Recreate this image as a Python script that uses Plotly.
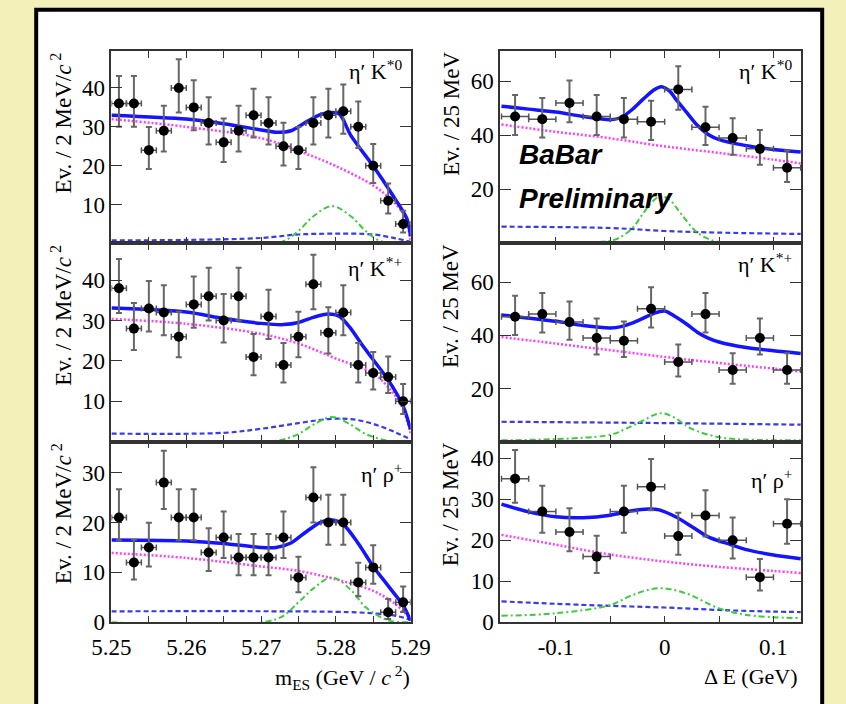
import math
import plotly.graph_objects as go

# ---------------- data ----------------
MES_BINS = [5.251, 5.253, 5.255, 5.257, 5.259, 5.261, 5.263, 5.265, 5.267, 5.269,
            5.271, 5.273, 5.275, 5.277, 5.279, 5.281, 5.283, 5.285, 5.287, 5.289]
DE_BINS = [-0.1375, -0.1125, -0.0875, -0.0625, -0.0375, -0.0125,
           0.0125, 0.0375, 0.0625, 0.0875, 0.1125]

K0_MES = [36, 36, 24, 29, 40, 35, 31, 26, 29, 33, 31, 25, 24, 31, 33, 34, 30, 20, 11, 5]
KP_MES = [38, 28, 33, 32, 26, 34, 36, 30, 36, 21, 31, 19, 26, 39, 27, 32, 19, 17, 16, 10]
RHO_MES = [21, 12, 15, 28, 21, 21, 14, 17, 13, 13, 13, 17, 9, 25, 20, 20, 8, 11, 2, 4]

K0_DE = [47, 46, 52, 47, 46, 45, 57, 43, 39, 35, 28]
KP_DE = [47, 48, 45, 39, 38, 50, 30, 48, 27, 39, 27]
RHO_DE = [35, 27, 22, 16, 27, 33, 21, 26, 20, 11, 24]

# fit curves (drawn as splines)
# --- mES, eta' K*0
K0_MES_TOT_X = [5.25, 5.26, 5.265, 5.27, 5.272, 5.274, 5.276, 5.278, 5.2795, 5.2805,
                5.282, 5.285, 5.2875, 5.2895, 5.29]
K0_MES_TOT_Y = [33.0, 32.0, 30.8, 29.2, 28.6, 29.0, 31.2, 33.2, 33.7, 33.3,
                27.8, 19.9, 12.7, 6.4, 1.8]
K0_MES_CON_X = [5.25, 5.26, 5.27, 5.275, 5.28, 5.285, 5.2875, 5.289, 5.2895, 5.29]
K0_MES_CON_Y = [32.0, 30.0, 27.1, 23.8, 19.9, 14.9, 11.1, 7.7, 5.5, 0.5]
K0_MES_BB_X = [5.25, 5.26, 5.27, 5.275, 5.28, 5.285, 5.288, 5.29]
K0_MES_BB_Y = [0.8, 0.9, 1.4, 2.3, 2.5, 2.3, 1.3, 0.4]
K0_MES_SIG_X = [5.25, 5.27, 5.273, 5.275, 5.277, 5.2795, 5.282, 5.284, 5.286, 5.29]
K0_MES_SIG_Y = [0.0, 0.0, 0.6, 3.2, 7.0, 9.6, 7.0, 3.2, 0.6, 0.0]

# --- mES, eta' K*+
KP_MES_TOT_X = [5.25, 5.26, 5.265, 5.27, 5.273, 5.275, 5.277, 5.279, 5.2805,
                5.282, 5.2835, 5.285, 5.287, 5.289, 5.29]
KP_MES_TOT_Y = [33.1, 32.1, 30.5, 29.3, 29.0, 29.5, 30.8, 31.6, 31.0,
                28.0, 24.0, 20.3, 15.3, 8.8, 3.0]
KP_MES_CON_X = [5.25, 5.26, 5.27, 5.275, 5.28, 5.285, 5.2875, 5.289, 5.29]
KP_MES_CON_Y = [30.4, 29.2, 26.7, 24.3, 20.6, 16.9, 12.4, 8.0, 2.0]
KP_MES_BB_X = [5.25, 5.265, 5.27, 5.275, 5.279, 5.282, 5.285, 5.288, 5.29]
KP_MES_BB_Y = [2.0, 2.2, 3.2, 4.6, 5.6, 5.6, 4.4, 2.3, 0.6]
KP_MES_SIG_X = [5.25, 5.272, 5.275, 5.277, 5.2795, 5.282, 5.284, 5.287, 5.29]
KP_MES_SIG_Y = [0.0, 0.2, 1.9, 4.2, 6.1, 4.2, 1.9, 0.2, 0.0]

# --- mES, eta' rho+
RHO_MES_TOT_X = [5.25, 5.26, 5.265, 5.27, 5.272, 5.274, 5.276, 5.278, 5.2795, 5.281,
                 5.283, 5.285, 5.287, 5.289, 5.29]
RHO_MES_TOT_Y = [16.5, 16.3, 15.8, 15.0, 15.0, 15.9, 18.1, 20.1, 20.5, 19.6,
                 15.8, 11.2, 7.3, 3.4, 0.3]
RHO_MES_CON_X = [5.25, 5.26, 5.27, 5.275, 5.28, 5.285, 5.288, 5.29]
RHO_MES_CON_Y = [13.9, 12.9, 11.2, 10.3, 8.6, 6.3, 3.6, 0.6]
RHO_MES_BB_X = [5.25, 5.28, 5.285, 5.288, 5.29]
RHO_MES_BB_Y = [2.2, 2.1, 1.8, 1.3, 0.5]
RHO_MES_SIG_X = [5.25, 5.272, 5.275, 5.277, 5.2795, 5.282, 5.284, 5.287, 5.29]
RHO_MES_SIG_Y = [0.0, 0.6, 4.0, 6.8, 9.0, 6.5, 3.0, 0.4, 0.0]

# --- DeltaE, eta' K*0
K0_DE_TOT_X = [-0.15, -0.125, -0.1, -0.075, -0.05, -0.04, -0.03, -0.02, -0.01, -0.003,
               0.005, 0.01, 0.02, 0.03, 0.04, 0.05, 0.075, 0.1, 0.125]
K0_DE_TOT_Y = [50.8, 49.7, 48.6, 47.0, 45.8, 46.6, 49.5, 53.3, 56.8, 58.0,
               56.2, 53.5, 48.6, 43.7, 40.3, 38.4, 36.2, 34.8, 33.8]
K0_DE_CON_X = [-0.15, -0.1, -0.05, 0.0, 0.05, 0.1, 0.125]
K0_DE_CON_Y = [44.0, 41.3, 38.9, 35.9, 33.5, 31.0, 29.6]
K0_DE_BB_X = [-0.15, -0.05, 0.0, 0.05, 0.125]
K0_DE_BB_Y = [6.2, 5.7, 4.6, 4.0, 3.5]
K0_DE_SIG_X = [-0.15, -0.06, -0.045, -0.03, -0.02, -0.01, -0.003, 0.005, 0.015,
               0.03, 0.045, 0.06, 0.125]
K0_DE_SIG_Y = [0.3, 0.5, 1.5, 5.5, 11.0, 16.0, 17.5, 16.0, 11.0, 4.0, 1.0, 0.4, 0.3]

# --- DeltaE, eta' K*+
KP_DE_TOT_X = [-0.15, -0.1, -0.075, -0.05, -0.04, -0.03, -0.02, -0.01, 0.0, 0.01,
               0.02, 0.03, 0.04, 0.05, 0.075, 0.1, 0.125]
KP_DE_TOT_Y = [47.7, 45.3, 43.7, 42.8, 43.3, 44.6, 46.4, 48.3, 49.2, 47.0,
               44.3, 41.2, 39.0, 37.5, 35.4, 34.2, 33.2]
KP_DE_CON_X = [-0.15, -0.1, -0.05, 0.0, 0.05, 0.1, 0.125]
KP_DE_CON_Y = [39.4, 36.9, 34.4, 31.9, 29.6, 27.5, 26.4]
KP_DE_BB_X = [-0.15, 0.0, 0.125]
KP_DE_BB_Y = [7.5, 7.0, 6.4]
KP_DE_SIG_X = [-0.15, -0.05, -0.035, -0.02, -0.01, -0.002, 0.01, 0.025, 0.05, 0.075, 0.125]
KP_DE_SIG_Y = [0.5, 2.6, 5.0, 7.9, 10.0, 10.7, 8.8, 4.8, 1.7, 0.8, 0.5]

# --- DeltaE, eta' rho+
RHO_DE_TOT_X = [-0.15, -0.125, -0.1, -0.075, -0.05, -0.03, -0.015, -0.005, 0.01,
                0.025, 0.04, 0.05, 0.06, 0.075, 0.1, 0.125]
RHO_DE_TOT_Y = [28.8, 26.9, 25.7, 25.5, 26.1, 27.2, 27.6, 27.4, 25.7,
                23.3, 20.8, 19.8, 19.0, 17.7, 16.4, 15.5]
RHO_DE_CON_X = [-0.15, -0.1, -0.05, 0.0, 0.05, 0.1, 0.125]
RHO_DE_CON_Y = [21.3, 18.9, 16.5, 14.8, 13.5, 12.5, 12.0]
RHO_DE_BB_X = [-0.15, -0.1, -0.05, 0.0, 0.05, 0.1, 0.125]
RHO_DE_BB_Y = [5.1, 4.5, 4.0, 3.6, 3.0, 2.6, 2.5]
RHO_DE_SIG_X = [-0.15, -0.1, -0.05, -0.03, -0.005, 0.02, 0.05, 0.075, 0.125]
RHO_DE_SIG_Y = [1.6, 2.2, 4.2, 6.6, 8.3, 7.0, 3.4, 1.8, 1.0]

PANEL_LABELS = ["η′ K<sup>*0</sup>", "η′ K<sup>*+</sup>", "η′ ρ<sup>+</sup>"]
YTITLE_MES = "Ev. / 2 MeV/<i>c</i><sup> 2</sup>"
YTITLE_DE = "Ev. / 25 MeV"
XTITLE_MES = "m<sub>ES</sub> (GeV / <i>c</i><sup> 2</sup>)"
XTITLE_DE = "Δ E (GeV)"

MES_RANGE = [5.25, 5.29]
DE_RANGE = [-0.1512, 0.1255]
YRANGES = [[0, 49.5], [0, 71.2], [0, 49.1], [0, 74.6], [0, 36.2], [0, 44.0]]
YTICKS = [[10, 20, 30, 40], [20, 40, 60], [10, 20, 30, 40], [20, 40, 60],
          [0, 10, 20, 30], [0, 10, 20, 30, 40]]

# ---------------- figure ----------------
W, H = 846, 704
SERIF = "Liberation Serif, Times New Roman, serif"


def px_x(p):
    return p / W


def px_y(p):
    return 1 - p / H


X_LEFT = [px_x(96), px_x(410)]
X_RIGHT = [px_x(504), px_x(820)]
ROWS = [[px_y(248), px_y(52)], [px_y(450), px_y(248)], [px_y(634), px_y(450)]]


def poisson_err(counts):
    up = [math.sqrt(n + 0.75) + 1.0 for n in counts]
    dn = [math.sqrt(max(n - 0.25, 0.0)) for n in counts]
    return up, dn


fig = go.Figure()

panels = [
    (MES_BINS, K0_MES, 0.001, (K0_MES_TOT_X, K0_MES_TOT_Y), (K0_MES_CON_X, K0_MES_CON_Y),
     (K0_MES_BB_X, K0_MES_BB_Y), (K0_MES_SIG_X, K0_MES_SIG_Y)),
    (DE_BINS, K0_DE, 0.0125, (K0_DE_TOT_X, K0_DE_TOT_Y), (K0_DE_CON_X, K0_DE_CON_Y),
     (K0_DE_BB_X, K0_DE_BB_Y), (K0_DE_SIG_X, K0_DE_SIG_Y)),
    (MES_BINS, KP_MES, 0.001, (KP_MES_TOT_X, KP_MES_TOT_Y), (KP_MES_CON_X, KP_MES_CON_Y),
     (KP_MES_BB_X, KP_MES_BB_Y), (KP_MES_SIG_X, KP_MES_SIG_Y)),
    (DE_BINS, KP_DE, 0.0125, (KP_DE_TOT_X, KP_DE_TOT_Y), (KP_DE_CON_X, KP_DE_CON_Y),
     (KP_DE_BB_X, KP_DE_BB_Y), (KP_DE_SIG_X, KP_DE_SIG_Y)),
    (MES_BINS, RHO_MES, 0.001, (RHO_MES_TOT_X, RHO_MES_TOT_Y), (RHO_MES_CON_X, RHO_MES_CON_Y),
     (RHO_MES_BB_X, RHO_MES_BB_Y), (RHO_MES_SIG_X, RHO_MES_SIG_Y)),
    (DE_BINS, RHO_DE, 0.0125, (RHO_DE_TOT_X, RHO_DE_TOT_Y), (RHO_DE_CON_X, RHO_DE_CON_Y),
     (RHO_DE_BB_X, RHO_DE_BB_Y), (RHO_DE_SIG_X, RHO_DE_SIG_Y)),
]

for i, (bx, cnt, hw, tot, con, bb, sig) in enumerate(panels):
    k = i + 1
    xa = "x" if k == 1 else f"x{k}"
    ya = "y" if k == 1 else f"y{k}"
    fig.add_trace(go.Scatter(x=con[0], y=con[1], mode="lines", xaxis=xa, yaxis=ya,
                             line=dict(color="#ff3cff", width=2.5, dash="2px,2px", shape="spline"),
                             hoverinfo="skip"))
    fig.add_trace(go.Scatter(x=bb[0], y=bb[1], mode="lines", xaxis=xa, yaxis=ya,
                             line=dict(color="#3a3ae8", width=2.2, dash="5px,3px", shape="spline"),
                             hoverinfo="skip"))
    fig.add_trace(go.Scatter(x=sig[0], y=sig[1], mode="lines", xaxis=xa, yaxis=ya,
                             line=dict(color="#3ccc3c", width=2, dash="6px,3px,2px,3px", shape="spline"),
                             hoverinfo="skip"))
    fig.add_trace(go.Scatter(x=tot[0], y=tot[1], mode="lines", xaxis=xa, yaxis=ya,
                             line=dict(color="#1414ff", width=3.5, shape="spline", smoothing=0.8),
                             hoverinfo="skip"))
    up, dn = poisson_err(cnt)
    fig.add_trace(go.Scatter(
        x=bx, y=cnt, mode="markers", xaxis=xa, yaxis=ya,
        marker=dict(color="black", size=10),
        error_y=dict(type="data", array=up, arrayminus=dn, color="#666666",
                     thickness=2, width=3),
        error_x=dict(type="constant", value=hw, color="#555555", thickness=1.5, width=3),
    ))

layout = dict(
    width=W, height=H, margin=dict(l=0, r=0, t=0, b=0),
    paper_bgcolor="#f4f0b9", plot_bgcolor="rgba(0,0,0,0)",
    showlegend=False,
    font=dict(family=SERIF, color="black"),
)

for i in range(6):
    k = i + 1
    row = i // 2
    col = i % 2
    xkey = "xaxis" if k == 1 else f"xaxis{k}"
    ykey = "yaxis" if k == 1 else f"yaxis{k}"
    anchor_x = "x" if k == 1 else f"x{k}"
    anchor_y = "y" if k == 1 else f"y{k}"
    is_mes = col == 0
    layout[xkey] = dict(
        domain=X_LEFT if is_mes else X_RIGHT,
        anchor=anchor_y,
        range=MES_RANGE if is_mes else DE_RANGE,
        tickvals=[5.25, 5.26, 5.27, 5.28, 5.29] if is_mes else [-0.1, 0.0, 0.1],
        ticktext=["5.25", "5.26", "5.27", "5.28", "5.29"] if is_mes else ["-0.1", "0", "0.1"],
        showticklabels=(row == 2),
        ticks="inside", ticklen=7, tickwidth=1.3, tickcolor="#333",
        minor=dict(tickvals=[5.255, 5.265, 5.275, 5.285] if is_mes else [-0.05, 0.05],
                   ticks="inside", ticklen=7, tickwidth=1.3, tickcolor="#333"),
        showline=True, linecolor="#333", linewidth=1.5, mirror="ticks",
        showgrid=False, zeroline=False,
        ticklabelstandoff=3,
        tickfont=dict(family=SERIF, size=23, color="black"),
    )
    layout[ykey] = dict(
        domain=ROWS[row],
        anchor=anchor_x,
        range=YRANGES[i],
        tickvals=YTICKS[i],
        ticks="inside", ticklen=11, tickwidth=1.3, tickcolor="#333",
        showline=True, linecolor="#333", linewidth=1.5, mirror="ticks",
        showgrid=False, zeroline=False,
        tickfont=dict(family=SERIF, size=23, color="black"),
    )

fig.update_layout(**layout)

# background white panel with black frame
fig.add_shape(type="rect", xref="paper", yref="paper",
              x0=px_x(17), x1=px_x(842), y0=-0.05, y1=px_y(10),
              fillcolor="white", line=dict(color="black", width=4), layer="below")

ann = []
# y titles (top-aligned to each panel)
row_tops = [52, 248, 450]
for r in range(3):
    ann.append(dict(text=YTITLE_MES, x=px_x(44), y=px_y(row_tops[r] - 1), xref="paper", yref="paper",
                    textangle=-90, xanchor="center", yanchor="top", showarrow=False,
                    font=dict(family=SERIF, size=23, color="black")))
    ann.append(dict(text=YTITLE_DE, x=px_x(452), y=px_y(row_tops[r] - 1), xref="paper", yref="paper",
                    textangle=-90, xanchor="center", yanchor="top", showarrow=False,
                    font=dict(family=SERIF, size=23, color="black")))

label_y_left = [71, 272, 482]
label_y_right = [71, 268, 488]
for r in range(3):
    ann.append(dict(text=PANEL_LABELS[r], x=px_x(403), y=px_y(label_y_left[r]), xref="paper",
                    yref="paper", xanchor="right", yanchor="middle", showarrow=False,
                    font=dict(family=SERIF, size=22, color="black")))
    ann.append(dict(text=PANEL_LABELS[r], x=px_x(812), y=px_y(label_y_right[r]), xref="paper",
                    yref="paper", xanchor="right", yanchor="middle", showarrow=False,
                    font=dict(family=SERIF, size=22, color="black")))

ann.append(dict(text=XTITLE_MES, x=px_x(411), y=px_y(690), xref="paper", yref="paper",
                xanchor="right", yanchor="middle", showarrow=False,
                font=dict(family=SERIF, size=22, color="black")))
ann.append(dict(text=XTITLE_DE, x=px_x(819), y=px_y(689), xref="paper", yref="paper",
                xanchor="right", yanchor="middle", showarrow=False,
                font=dict(family=SERIF, size=22, color="black")))

ann.append(dict(text="BaBar", x=px_x(522), y=px_y(157), xref="paper", yref="paper",
                xanchor="left", yanchor="middle", showarrow=False,
                font=dict(family="Liberation Sans, Arial, sans-serif", size=28, color="black",
                          weight="bold", style="italic")))
ann.append(dict(text="Preliminary", x=px_x(522), y=px_y(202), xref="paper", yref="paper",
                xanchor="left", yanchor="middle", showarrow=False,
                font=dict(family="Liberation Sans, Arial, sans-serif", size=28, color="black",
                          weight="bold", style="italic")))

fig.update_layout(annotations=ann)

fig.write_html("out.html")
